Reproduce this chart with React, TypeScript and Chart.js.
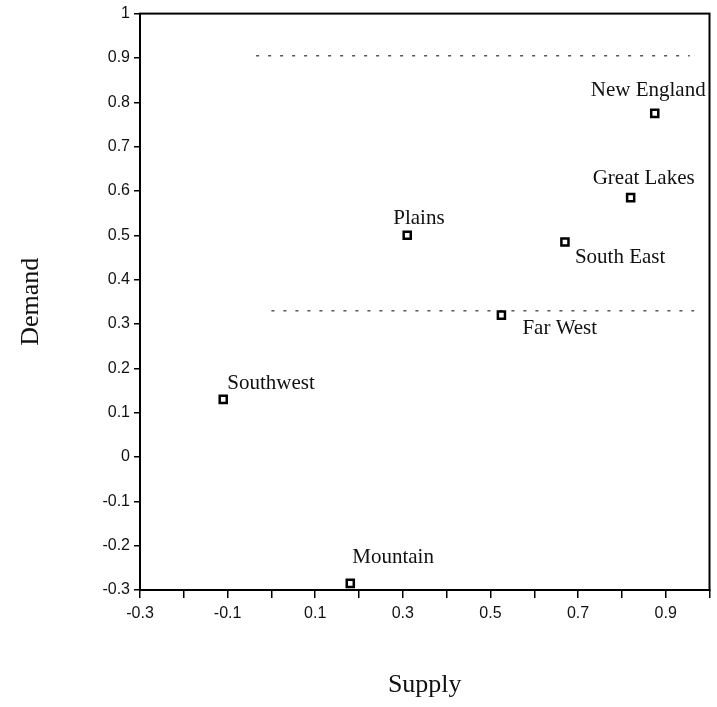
import React, { useEffect, useRef } from 'react';
import { Chart, registerables } from 'chart.js';

Chart.register(...registerables);

// ---- data ----
const regions = ['Southwest', 'Mountain', 'Plains', 'Far West', 'South East', 'Great Lakes', 'New England'];
const supply = [-0.11, 0.18, 0.31, 0.525, 0.67, 0.82, 0.875];
const demand = [0.13, -0.285, 0.5, 0.32, 0.485, 0.585, 0.775];

const xTickLabels = ['-0.3', '-0.1', '0.1', '0.3', '0.5', '0.7', '0.9'];
const yTickLabels = ['1', '0.9', '0.8', '0.7', '0.6', '0.5', '0.4', '0.3', '0.2', '0.1', '0', '-0.1', '-0.2', '-0.3'];

// faint dotted reference lines visible in the scan
const refLineY = [0.905, 0.33];
const refLineXStart = [-0.035, 0.0];
const refLineXEnd = [0.955, 0.965];

// label placement (text left edge / vertical centre relative to marker, px)
const labelOffsets: [number, number][] = [
  [4, -16],
  [2, -26],
  [-14, -17],
  [21, 13],
  [10, 16],
  [-38, -19],
  [-64, -23],
];

const fmt = (v: number) => {
  const r = Math.round(v * 10) / 10;
  return r === 0 ? '0' : String(r);
};

const serif = '"Liberation Serif", "Times New Roman", serif';
const sans = '"Liberation Sans", Arial, sans-serif';

export default function App() {
  const ref = useRef<HTMLCanvasElement | null>(null);

  useEffect(() => {
    if (!ref.current) return;

    const boxPlugin = {
      id: 'boxPlugin',
      beforeDatasetsDraw(chart: any) {
        const { ctx, chartArea } = chart;
        ctx.save();
        ctx.strokeStyle = '#000';
        ctx.lineWidth = 2;
        ctx.strokeRect(chartArea.left, chartArea.top, chartArea.right - chartArea.left, chartArea.bottom - chartArea.top);
        ctx.restore();
      },
    };

    const labelPlugin = {
      id: 'labelPlugin',
      afterDatasetsDraw(chart: any) {
        const meta = chart.getDatasetMeta(0);
        const { ctx } = chart;
        ctx.save();
        ctx.font = `21px ${serif}`;
        ctx.fillStyle = '#111';
        ctx.textAlign = 'left';
        ctx.textBaseline = 'middle';
        meta.data.forEach((pt: any, i: number) => {
          const [dx, dy] = labelOffsets[i];
          ctx.fillText(regions[i], pt.x + dx, pt.y + dy);
        });
        ctx.restore();
      },
    };

    const refDatasets = refLineY.map((y, i) => ({
      type: 'line' as const,
      data: [
        { x: refLineXStart[i], y },
        { x: refLineXEnd[i], y },
      ],
      borderColor: '#555',
      borderWidth: 1.5,
      borderDash: [3, 9],
      pointRadius: 0,
      showLine: true,
      fill: false,
    }));

    const chart = new Chart(ref.current, {
      type: 'scatter',
      data: {
        datasets: [
          {
            label: 'Regions',
            data: supply.map((x, i) => ({ x, y: demand[i] })),
            pointStyle: 'rect',
            pointRadius: 5,
            borderWidth: 2.5,
            borderColor: '#000',
            backgroundColor: '#fff',
          } as any,
          ...refDatasets,
        ],
      },
      options: {
        animation: false,
        responsive: false,
        layout: { padding: { top: 12, right: 4, left: 0, bottom: 0 } },
        plugins: {
          legend: { display: false },
          tooltip: { enabled: false },
        },
        scales: {
          x: {
            type: 'linear',
            min: -0.3,
            max: 1,
            afterFit: (s: any) => {
              s.height = 117;
            },
            border: { display: true, color: '#000', width: 2 },
            grid: { drawOnChartArea: false, drawTicks: true, tickLength: 8, color: '#000', lineWidth: 1.5 },
            ticks: {
              stepSize: 0.1,
              autoSkip: false,
              maxRotation: 0,
              padding: 6,
              color: '#111',
              font: { family: sans, size: 16 },
              callback: (v: any) => {
                const s = fmt(Number(v));
                return xTickLabels.includes(s) ? s : '';
              },
            },
            title: {
              display: true,
              text: 'Supply',
              color: '#111',
              font: { family: serif, size: 26 },
              padding: { top: 4, bottom: 6 },
            },
          },
          y: {
            type: 'linear',
            min: -0.3,
            max: 1,
            afterFit: (s: any) => {
              s.width = 140;
            },
            border: { display: true, color: '#000', width: 2 },
            grid: { drawOnChartArea: false, drawTicks: true, tickLength: 6, color: '#000', lineWidth: 1.5 },
            ticks: {
              stepSize: 0.1,
              autoSkip: false,
              padding: 4,
              color: '#111',
              font: { family: sans, size: 16 },
              callback: (v: any) => {
                const s = fmt(Number(v));
                return yTickLabels.includes(s) ? s : '';
              },
            },
            title: {
              display: true,
              text: 'Demand',
              color: '#111',
              font: { family: serif, size: 26 },
              padding: { top: 16, bottom: 4 },
            },
          },
        },
      },
      plugins: [boxPlugin, labelPlugin],
    });

    return () => chart.destroy();
  }, []);

  return (
    <div style={{ position: 'absolute', left: 0, top: 0, width: 717, height: 707, background: '#fff' }}>
      <canvas ref={ref} width={717} height={707} style={{ display: 'block' }} />
    </div>
  );
}
